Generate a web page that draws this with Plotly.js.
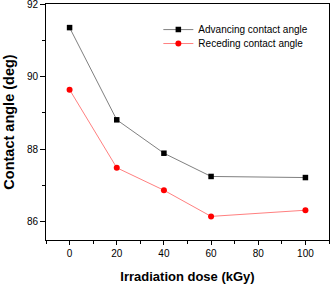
<!DOCTYPE html>
<html>
<head>
<meta charset="utf-8">
<script src="https://cdn.plot.ly/plotly-3.0.1.min.js"></script>
<style>html,body{margin:0;padding:0;background:#fff;}#chart{width:331px;height:285px;}</style>
</head>
<body>
<div id="chart"></div>
<script>
const dose = [0, 20, 40, 60, 100];
const advancing = [91.35, 88.81, 87.89, 87.25, 87.22];
const receding = [89.64, 87.49, 86.87, 86.15, 86.32];
const seriesNames = ["Advancing contact angle", "Receding contact angle"];
const xTitle = "Irradiation dose (kGy)";
const yTitle = "Contact angle (deg)";

const FONT = "Liberation Sans, Arial, sans-serif";

const traces = [
  {
    x: dose, y: advancing, name: seriesNames[0], type: "scatter", mode: "lines+markers",
    line: {color: "#808080", width: 1},
    marker: {symbol: "square", size: 5.5, color: "#000000"},
    legend: "legend"
  },
  {
    x: dose, y: receding, name: seriesNames[1], type: "scatter", mode: "lines+markers",
    line: {color: "#ff8080", width: 1},
    marker: {symbol: "circle", size: 6, color: "#ff0000"},
    legend: "legend2"
  }
];

const legendCommon = {
  bgcolor: "rgba(0,0,0,0)", borderwidth: 0,
  font: {family: FONT, size: 10, color: "#000"},
  xanchor: "left", yanchor: "top"
};

const layout = {
  width: 331, height: 285,
  margin: {l: 46, r: 2, t: 4, b: 45, pad: 0},
  paper_bgcolor: "#fff", plot_bgcolor: "#fff",
  font: {family: FONT, size: 10, color: "#000"},
  showlegend: true,
  legend: Object.assign({x: 0.397, y: 0.953}, legendCommon),
  legend2: Object.assign({x: 0.397, y: 0.894}, legendCommon),
  xaxis: {
    range: [-10, 110], tick0: 0, dtick: 20, ticks: "outside", ticklen: 4, tickwidth: 1, tickcolor: "#000",
    minor: {dtick: 10, ticks: "outside", ticklen: 3, tickcolor: "#000", tickwidth: 1},
    showgrid: false, zeroline: false, showline: true, linecolor: "#000", linewidth: 1, mirror: true,
    tickfont: {family: FONT, size: 10, color: "#000"},
    title: {text: xTitle, font: {family: FONT, size: 13, weight: "bold", color: "#000"}, standoff: 13}
  },
  yaxis: {
    range: [85.5, 92], tick0: 86, dtick: 2, ticks: "outside", ticklen: 5, tickwidth: 1, tickcolor: "#000",
    minor: {dtick: 1, ticks: "outside", ticklen: 3, tickcolor: "#000", tickwidth: 1},
    showgrid: false, zeroline: false, showline: true, linecolor: "#000", linewidth: 1, mirror: true,
    ticklabeloverflow: "allow",
    tickfont: {family: FONT, size: 10, color: "#000"},
    title: {text: yTitle, font: {family: FONT, size: 14.5, weight: "bold", color: "#000"}, standoff: 8}
  }
};

Plotly.newPlot("chart", traces, layout, {displayModeBar: false, staticPlot: true});
</script>
</body>
</html>
